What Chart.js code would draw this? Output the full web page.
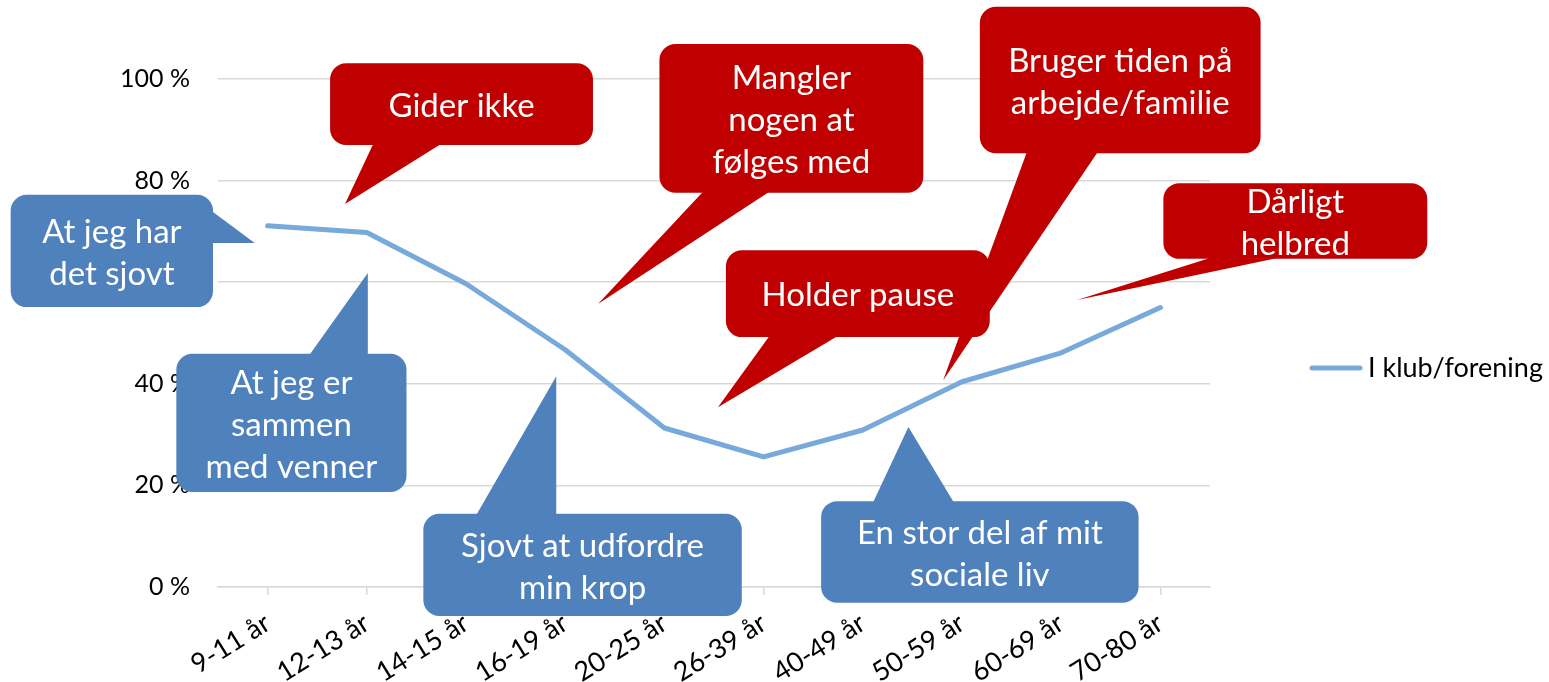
<!DOCTYPE html>
<html>
<head>
<meta charset="utf-8">
<script src="https://cdn.jsdelivr.net/npm/chart.js@4"></script>
<style>
  html, body { margin: 0; padding: 0; background: #fff; }
  #wrap { width: 1549px; height: 682px; }
</style>
</head>
<body>
<div id="wrap"><canvas id="myChart"></canvas></div>
<script>
// data
const ageGroups = ['9-11 år', '12-13 år', '14-15 år', '16-19 år', '20-25 år', '26-39 år', '40-49 år', '50-59 år', '60-69 år', '70-80 år'];
const klubValues = [71.1, 69.8, 59.7, 46.7, 31.3, 25.6, 30.9, 40.4, 46.1, 55.0];
const seriesLabel = 'I klub/forening';
const yMin = 0, yMax = 100, yStep = 20;

const RED = '#C00000';
const BLUE = '#4F81BD';
const FONT = 'Lato, "Open Sans", sans-serif';

// callouts, placed in axis units (x = category index, y = percent)
const callouts = [
    { lines: ['At jeg har', 'det sjovt'], color: BLUE, box: [-2.59, 77.2, -0.55, 55.1], tail: [[-0.55, 73.8], [-0.13, 67.7], [-0.55, 67.7]] },
    { lines: ['At jeg er', 'sammen', 'med venner'], color: BLUE, box: [-0.92, 45.9, 1.40, 18.7], tail: [[0.43, 45.9], [1.01, 61.8], [1.01, 45.9]] },
    { lines: ['Sjovt at udfordre', 'min krop'], color: BLUE, box: [1.57, 14.4, 4.78, -5.7], tail: [[2.11, 14.4], [2.91, 41.5], [2.91, 14.4]] },
    { lines: ['En stor del af mit', 'sociale liv'], color: BLUE, box: [5.58, 16.9, 8.78, -3.1], tail: [[6.11, 16.9], [6.46, 31.5], [6.91, 16.9]] },
    { lines: ['Gider ikke'], color: RED, box: [0.63, 103.1, 3.28, 87.0], tail: [[1.06, 87.0], [0.78, 75.4], [1.73, 87.0]] },
    { lines: ['Mangler', 'nogen at', 'følges med'], color: RED, box: [3.95, 106.9, 6.61, 77.6], tail: [[4.38, 77.6], [3.33, 55.7], [5.04, 77.6]] },
    { lines: ['Holder pause'], color: RED, box: [4.62, 66.3, 7.28, 49.2], tail: [[5.05, 49.2], [4.54, 35.4], [5.73, 49.2]] },
    { lines: ['Bruger tiden på', 'arbejde/familie'], color: RED, box: [7.18, 114.2, 10.01, 85.4], tail: [[7.65, 85.4], [6.81, 40.7], [8.36, 85.4]] },
    { lines: ['Dårligt', 'helbred'], color: RED, box: [9.03, 79.5, 11.69, 64.6], tail: [[9.47, 64.6], [8.16, 56.5], [10.14, 64.6]] }
];

function roundRect(ctx, x, y, w, h, r) {
    ctx.beginPath();
    ctx.moveTo(x + r, y);
    ctx.lineTo(x + w - r, y);
    ctx.arcTo(x + w, y, x + w, y + r, r);
    ctx.lineTo(x + w, y + h - r);
    ctx.arcTo(x + w, y + h, x + w - r, y + h, r);
    ctx.lineTo(x + r, y + h);
    ctx.arcTo(x, y + h, x, y + h - r, r);
    ctx.lineTo(x, y + r);
    ctx.arcTo(x, y, x + r, y, r);
    ctx.closePath();
}

const calloutPlugin = {
    id: 'callouts',
    afterDraw(chart) {
        const ctx = chart.ctx;
        const xs = chart.scales.x, ys = chart.scales.y;
        const px = v => xs.getPixelForValue(v);
        const py = v => ys.getPixelForValue(v);
        ctx.save();
        callouts.forEach(c => {
            const x1 = px(c.box[0]), y1 = py(c.box[1]), x2 = px(c.box[2]), y2 = py(c.box[3]);
            ctx.fillStyle = c.color;
            roundRect(ctx, x1, y1, x2 - x1, y2 - y1, 16);
            ctx.fill();
            // tail: base points pushed a little into the box so no seam shows
            const tip = [px(c.tail[1][0]), py(c.tail[1][1])];
            const base = [c.tail[0], c.tail[2]].map(p => {
                const bx = px(p[0]), by = py(p[1]);
                const dx = bx - tip[0], dy = by - tip[1];
                const len = Math.sqrt(dx * dx + dy * dy);
                return [bx + dx / len * 3, by + dy / len * 3];
            });
            ctx.beginPath();
            ctx.moveTo(base[0][0], base[0][1]);
            ctx.lineTo(tip[0], tip[1]);
            ctx.lineTo(base[1][0], base[1][1]);
            ctx.closePath();
            ctx.fill();
            // text
            ctx.fillStyle = '#fff';
            ctx.font = '33px ' + FONT;
            ctx.textAlign = 'center';
            ctx.textBaseline = 'middle';
            const lh = 42;
            const cx = (x1 + x2) / 2, cy = (y1 + y2) / 2 + 2;
            c.lines.forEach((t, i) => {
                ctx.fillText(t, cx, cy + (i - (c.lines.length - 1) / 2) * lh);
            });
        });
        ctx.restore();
    }
};

const legendPlugin = {
    id: 'sideLegend',
    afterDraw(chart) {
        const ctx = chart.ctx;
        const area = chart.chartArea;
        const ds = chart.data.datasets[0];
        const x = area.right + 102, y = (area.top + area.bottom) / 2 + 35;
        ctx.save();
        ctx.strokeStyle = ds.borderColor;
        ctx.lineWidth = 5;
        ctx.lineCap = 'round';
        ctx.beginPath();
        ctx.moveTo(x, y);
        ctx.lineTo(x + 48, y);
        ctx.stroke();
        ctx.fillStyle = '#000';
        ctx.font = '27px ' + FONT;
        ctx.textAlign = 'left';
        ctx.textBaseline = 'middle';
        ctx.fillText(ds.label, x + 56, y);
        ctx.restore();
    }
};

new Chart(document.getElementById('myChart'), {
    type: 'line',
    data: {
        labels: ageGroups,
        datasets: [{
            label: seriesLabel,
            data: klubValues,
            borderColor: '#77A9DB',
            borderWidth: 5,
            borderCapStyle: 'round',
            borderJoinStyle: 'round',
            pointRadius: 0,
            tension: 0,
            fill: false
        }]
    },
    options: {
        responsive: true,
        maintainAspectRatio: false,
        animation: false,
        layout: { padding: { top: 79, left: 120, right: 339, bottom: 0 } },
        plugins: {
            legend: { display: false },
            tooltip: { enabled: false }
        },
        scales: {
            x: {
                offset: true,
                afterFit: s => { s.height = 95; },
                grid: { drawOnChartArea: false, drawTicks: true, tickLength: 8, color: '#d9d9d9', lineWidth: 1.5 },
                border: { color: '#d9d9d9', width: 1.5 },
                ticks: { color: '#000', font: { family: FONT, size: 27 }, minRotation: 32, maxRotation: 32, padding: 12, autoSkip: false }
            },
            y: {
                min: yMin,
                max: yMax,
                afterFit: s => { s.width = 98; },
                grid: { color: '#d9d9d9', lineWidth: 1.5, drawTicks: false },
                border: { display: false },
                ticks: { stepSize: yStep, color: '#000', padding: 28, font: { family: FONT, size: 25 }, callback: v => v + ' %' }
            }
        }
    },
    plugins: [calloutPlugin, legendPlugin]
});
</script>
</body>
</html>
